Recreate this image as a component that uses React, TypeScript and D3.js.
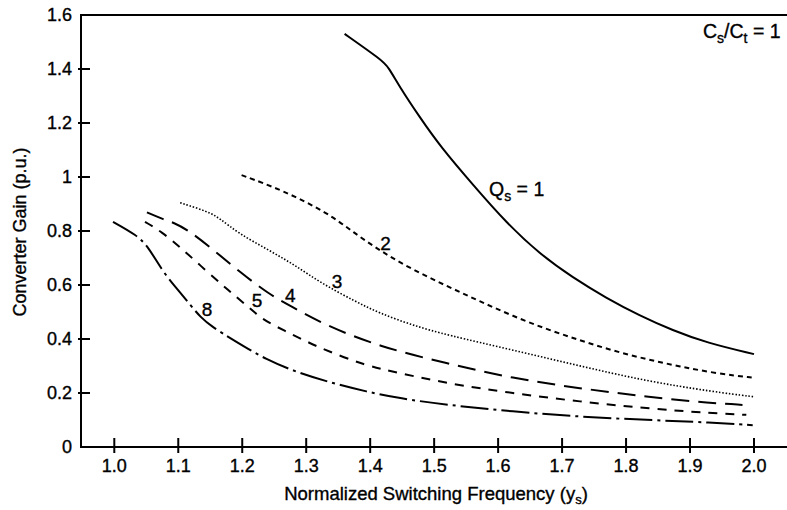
import React from "react";
import * as d3 from "d3";

const W = 787;
const H = 510;

const xTicks = [1.0, 1.1, 1.2, 1.3, 1.4, 1.5, 1.6, 1.7, 1.8, 1.9, 2.0];
const yTicks = [0, 0.2, 0.4, 0.6, 0.8, 1, 1.2, 1.4, 1.6];
const yTickLabels = ["0", "0.2", "0.4", "0.6", "0.8", "1", "1.2", "1.4", "1.6"];

const q1X = [1.36, 1.418, 1.428, 1.446, 1.477, 1.509, 1.561, 1.613, 1.665, 1.717, 1.769, 1.821, 1.873, 1.926, 2.0];
const q1Y = [1.53, 1.433, 1.409, 1.334, 1.223, 1.115, 0.97, 0.83, 0.715, 0.627, 0.552, 0.487, 0.432, 0.386, 0.344];

const q2X = [1.199, 1.262, 1.334, 1.373, 1.418, 1.467, 1.52, 1.571, 1.623, 1.676, 1.728, 1.779, 1.832, 1.884, 1.94, 2.0];
const q2Y = [1.007, 0.952, 0.867, 0.796, 0.723, 0.656, 0.596, 0.54, 0.485, 0.436, 0.395, 0.357, 0.325, 0.298, 0.273, 0.256];

const q3X = [1.103, 1.147, 1.165, 1.194, 1.241, 1.282, 1.324, 1.376, 1.415, 1.47, 1.52, 1.623, 1.728, 1.832, 1.935, 2.0];
const q3Y = [0.905, 0.871, 0.847, 0.791, 0.73, 0.674, 0.606, 0.54, 0.495, 0.448, 0.415, 0.359, 0.3, 0.244, 0.205, 0.186];

const q4X = [1.051, 1.079, 1.092, 1.115, 1.152, 1.199, 1.24, 1.277, 1.329, 1.415, 1.519, 1.623, 1.728, 1.832, 1.935, 1.982];
const q4Y = [0.869, 0.841, 0.832, 0.804, 0.736, 0.643, 0.569, 0.52, 0.452, 0.371, 0.31, 0.254, 0.217, 0.186, 0.162, 0.156];

const q5X = [1.048, 1.074, 1.105, 1.142, 1.178, 1.209, 1.233, 1.262, 1.316, 1.394, 1.446, 1.519, 1.623, 1.728, 1.832, 1.935, 1.988];
const q5Y = [0.834, 0.797, 0.736, 0.656, 0.581, 0.52, 0.47, 0.436, 0.371, 0.3, 0.274, 0.236, 0.199, 0.168, 0.143, 0.125, 0.119];

const q8X = [0.998, 1.035, 1.053, 1.074, 1.095, 1.121, 1.134, 1.152, 1.186, 1.238, 1.29, 1.342, 1.394, 1.446, 1.519, 1.623, 1.728, 1.832, 1.935, 1.998];
const q8Y = [0.834, 0.785, 0.742, 0.656, 0.594, 0.52, 0.483, 0.446, 0.396, 0.322, 0.273, 0.236, 0.205, 0.18, 0.156, 0.131, 0.112, 0.1, 0.091, 0.081];

const series = [
  { name: "1", xs: q1X, ys: q1Y, dash: "", width: 2 },
  { name: "2", xs: q2X, ys: q2Y, dash: "5,4", width: 2 },
  { name: "3", xs: q3X, ys: q3Y, dash: "1.5,1.8", width: 1.6 },
  { name: "4", xs: q4X, ys: q4Y, dash: "18,9", width: 2 },
  { name: "5", xs: q5X, ys: q5Y, dash: "9,8", width: 2 },
  { name: "8", xs: q8X, ys: q8Y, dash: "28,5,3,5", width: 2 },
];

const labelNames = ["2", "3", "4", "5", "8"];
const labelXs = [1.424, 1.348, 1.275, 1.223, 1.145];
const labelYs = [0.728, 0.588, 0.537, 0.518, 0.484];

const FONT = "'Liberation Sans', Arial, Helvetica, sans-serif";
const TXT = { fill: "#000", stroke: "#000", strokeWidth: 0.35 };

export default function App() {
  const x = d3.scaleLinear().domain([1, 2]).range([114.3, 754]);
  const y = d3.scaleLinear().domain([0, 1.6]).range([447, 15]);
  const left = 81;
  const right = 787;
  const top = y(1.6);
  const bottom = y(0);

  const line = d3
    .line<[number, number]>()
    .x((d) => x(d[0]))
    .y((d) => y(d[1]))
    .curve(d3.curveBasis);

  const fmt = d3.format(".1f");

  return (
    <svg
      width={W}
      height={H}
      style={{ position: "absolute", left: 0, top: 0, background: "#fff" }}
      fontFamily={FONT}
    >
      <rect x={0} y={0} width={W} height={H} fill="#fff" />
      <line x1={left} x2={right} y1={top} y2={top} stroke="#000" strokeWidth={2} />
      <line x1={left} x2={right} y1={bottom} y2={bottom} stroke="#000" strokeWidth={2} />
      <line x1={left} x2={left} y1={top - 1} y2={bottom + 1} stroke="#000" strokeWidth={2} />

      {yTicks.map((t, i) => (
        <g key={"y" + i}>
          {i > 0 && i < yTicks.length - 1 && (
            <line x1={left - 3} x2={left + 9} y1={y(t)} y2={y(t)} stroke="#000" strokeWidth={2} />
          )}
          <text x={72} y={y(t)} dy="0.36em" textAnchor="end" fontSize={18} {...TXT}>
            {yTickLabels[i]}
          </text>
        </g>
      ))}

      {xTicks.map((t, i) => (
        <g key={"x" + i}>
          <line x1={x(t)} x2={x(t)} y1={bottom - 9} y2={bottom + 6} stroke="#000" strokeWidth={2} />
          <text x={x(t)} y={472} textAnchor="middle" fontSize={18} {...TXT}>
            {fmt(t)}
          </text>
        </g>
      ))}

      <text x={436} y={500} textAnchor="middle" fontSize={18.5} {...TXT}>
        Normalized Switching Frequency (y
        <tspan fontSize={13} dy={4}>s</tspan>
        <tspan dy={-4}>)</tspan>
      </text>
      <text transform={`translate(26,232) rotate(-90)`} textAnchor="middle" fontSize={18} {...TXT}>
        Converter Gain (p.u.)
      </text>

      {series.map((s) => (
        <path
          key={s.name}
          d={line(s.xs.map((v, i) => [v, s.ys[i]] as [number, number])) || ""}
          fill="none"
          stroke="#000"
          strokeWidth={s.width}
          strokeDasharray={s.dash || undefined}
        />
      ))}

      {labelNames.map((n, i) => (
        <text key={"l" + n} x={x(labelXs[i])} y={y(labelYs[i])} textAnchor="middle" fontSize={19} {...TXT}>
          {n}
        </text>
      ))}

      <text x={489} y={196} fontSize={19.5} {...TXT}>
        Q<tspan fontSize={14} dy={5}>s</tspan>
        <tspan dy={-5}> = 1</tspan>
      </text>

      <text x={703} y={38} fontSize={19.5} {...TXT}>
        C<tspan fontSize={14} dy={5}>s</tspan>
        <tspan dy={-5}>/C</tspan>
        <tspan fontSize={14} dy={5}>t</tspan>
        <tspan dy={-5}> = 1</tspan>
      </text>
    </svg>
  );
}
